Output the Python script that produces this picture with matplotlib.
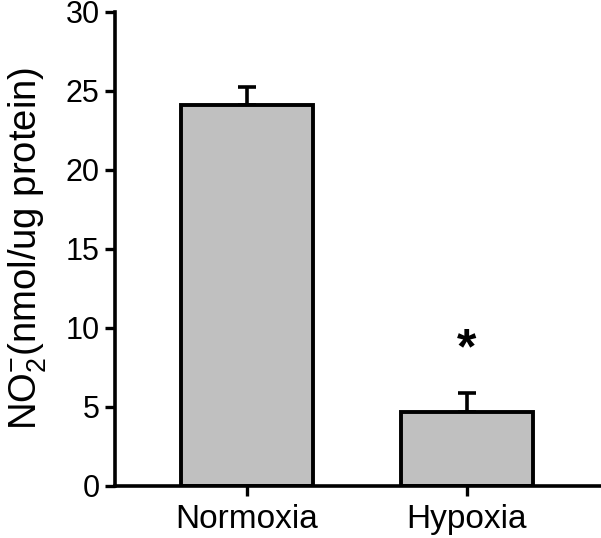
import matplotlib
matplotlib.use('Agg')
import matplotlib.pyplot as plt
import numpy as np

# Data
groups = ['Normoxia', 'Hypoxia']
values = [24.1, 4.7]
errors = [1.15, 1.2]
signif = ['', '*']

plt.rcParams['font.family'] = ['Liberation Sans', 'DejaVu Sans']
plt.rcParams['mathtext.fontset'] = 'custom'
plt.rcParams['mathtext.rm'] = 'Liberation Sans'
plt.rcParams['mathtext.it'] = 'Liberation Sans'

fig = plt.figure(figsize=(6.01, 5.38), dpi=100)
ax = fig.add_axes([0.191, 0.097, 0.809, 0.881])

x = np.arange(len(groups))
ax.bar(x, values, width=0.6, color='#c0c0c0', edgecolor='black', linewidth=2.8, zorder=2)
ax.errorbar(x, values, yerr=[np.zeros(len(errors)), errors], fmt='none',
            ecolor='black', elinewidth=2.6, capsize=6.5, capthick=2.6, zorder=1)
for xi, v, e, s in zip(x, values, errors, signif):
    if s:
        ax.text(xi, v + e + 2.7, s, ha='center', va='center', fontsize=36,
                fontweight='bold')

ax.set_xlim(-0.6, 1.61)
ax.set_ylim(0, 30)
ax.set_yticks(np.arange(0, 31, 5))
ax.set_xticks(x)
ax.set_xticklabels(groups, fontsize=24)
ax.tick_params(axis='y', labelsize=22, width=2.4, length=7, direction='out', pad=4)
ax.tick_params(axis='x', width=2.4, length=7, direction='out', pad=6)
ax.spines['top'].set_visible(False)
ax.spines['right'].set_visible(False)
ax.spines['left'].set_linewidth(2.6)
ax.spines['bottom'].set_linewidth(2.6)
ax.set_ylabel(r'NO$_2^{-}$(nmol/ug protein)', fontsize=27.5, labelpad=12)

fig.savefig('out.png', dpi=100)
